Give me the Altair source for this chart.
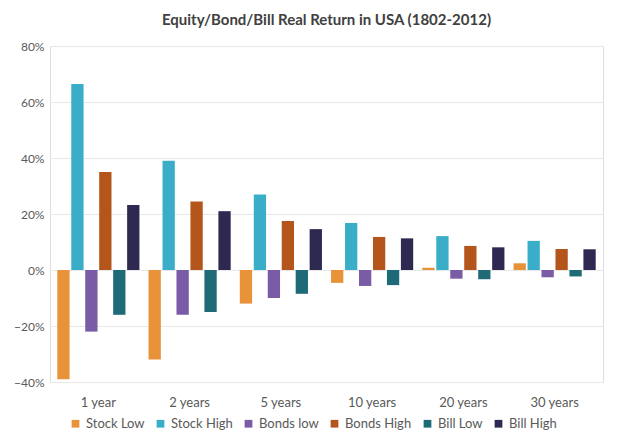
import altair as alt
import pandas as pd

periods = ["1 year", "2 years", "5 years", "10 years", "20 years", "30 years"]
series = ["Stock Low", "Stock High", "Bonds low", "Bonds High", "Bill Low", "Bill High"]
colors = ["#E8923A", "#3AAEC8", "#7A5BA6", "#B4561C", "#1E6B77", "#2D2950"]

stock_low = [-0.39, -0.32, -0.12, -0.046, 0.008, 0.024]
stock_high = [0.664, 0.39, 0.27, 0.168, 0.121, 0.104]
bonds_low = [-0.22, -0.16, -0.10, -0.057, -0.031, -0.026]
bonds_high = [0.35, 0.245, 0.175, 0.118, 0.086, 0.075]
bill_low = [-0.16, -0.15, -0.085, -0.054, -0.033, -0.023]
bill_high = [0.232, 0.21, 0.146, 0.113, 0.081, 0.074]

values = [stock_low, stock_high, bonds_low, bonds_high, bill_low, bill_high]
rows = []
for s, vals in zip(series, values):
    for p, v in zip(periods, vals):
        rows.append({"period": p, "series": s, "value": v})
df = pd.DataFrame(rows)

FONT = "Lato"

chart = alt.Chart(df).mark_bar().encode(
    x=alt.X("period:N", sort=periods, title=None,
            scale=alt.Scale(paddingInner=0.1, paddingOuter=0.08),
            axis=alt.Axis(labelAngle=0, domain=False, ticks=False, labelPadding=14,
                          labelFontSize=13, labelColor="#595959", labelFont=FONT)),
    xOffset=alt.XOffset("series:N", sort=series, scale=alt.Scale(paddingInner=0.12)),
    y=alt.Y("value:Q", title=None,
            scale=alt.Scale(domain=[-0.4, 0.8], nice=False),
            axis=alt.Axis(format=".0%", values=[-0.4, -0.2, 0, 0.2, 0.4, 0.6, 0.8],
                          domain=False, ticks=False, labelPadding=6,
                          labelFontSize=12, labelColor="#595959", labelFont=FONT,
                          gridColor="#E8E8E8")),
    color=alt.Color("series:N", sort=series,
                    scale=alt.Scale(domain=series, range=colors),
                    legend=alt.Legend(orient="none", legendX=19, legendY=371,
                                      direction="horizontal", title=None,
                                      symbolType="square", symbolSize=60,
                                      labelFontSize=13, labelColor="#595959", labelFont=FONT,
                                      columnPadding=9)),
).properties(
    width=553,
    height=336,
    title=alt.TitleParams("Equity/Bond/Bill Real Return in USA (1802-2012)",
                          fontSize=15, font=FONT, fontWeight="bold", color="#404040",
                          offset=12, anchor="middle"),
).configure_view(stroke=None).configure(background="white")

chart.save("out.html", embed_options={"renderer": "svg", "actions": False})
